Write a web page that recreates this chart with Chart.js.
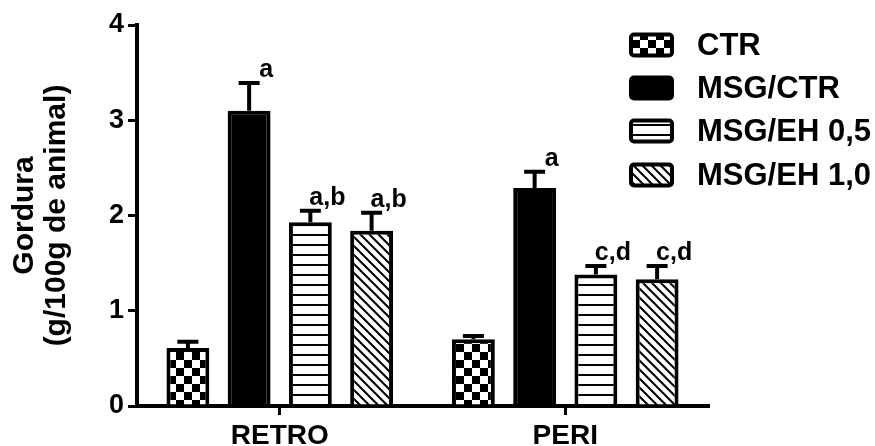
<!DOCTYPE html>
<html>
<head>
<meta charset="utf-8">
<script src="https://cdn.jsdelivr.net/npm/chart.js@4.4.0/dist/chart.umd.min.js"></script>
<style>
  html, body { margin: 0; padding: 0; background: #fff; }
  #wrap { width: 875px; height: 446px; }
</style>
</head>
<body>
<div id="wrap"><canvas id="c" width="875" height="446"></canvas></div>
<script>
// ---- Data ----
const categories = ['RETRO', 'PERI'];
const seriesNames = ['CTR', 'MSG/CTR', 'MSG/EH 0,5', 'MSG/EH 1,0'];
const ctrValues = [0.61, 0.70];
const msgCtrValues = [3.10, 2.29];
const eh05Values = [1.93, 1.38];
const eh10Values = [1.84, 1.33];
const ctrErr = [0.065, 0.035];
const msgCtrErr = [0.29, 0.17];
const eh05Err = [0.12, 0.09];
const eh10Err = [0.19, 0.14];
const ctrMarks = ['', ''];
const msgCtrMarks = ['a', 'a'];
const eh05Marks = ['a,b', 'c,d'];
const eh10Marks = ['a,b', 'c,d'];
const yTicks = [0, 1, 2, 3, 4];
const yTitle = ['Gordura', '(g/100g de animal)'];

// ---- Patterns ----
function makePattern(kind) {
  const c = document.createElement('canvas');
  const g = c.getContext('2d');
  if (kind === 'checker') {
    c.width = 16; c.height = 16;
    g.fillStyle = '#fff'; g.fillRect(0, 0, 16, 16);
    g.fillStyle = '#000'; g.fillRect(0, 0, 8, 8); g.fillRect(8, 8, 8, 8);
  } else if (kind === 'hlines') {
    c.width = 10; c.height = 10;
    g.fillStyle = '#fff'; g.fillRect(0, 0, 10, 10);
    g.fillStyle = '#000'; g.fillRect(0, 4, 10, 2);
  } else if (kind === 'diag') {
    const s = 9;
    c.width = s; c.height = s;
    g.fillStyle = '#fff'; g.fillRect(0, 0, s, s);
    g.strokeStyle = '#000'; g.lineWidth = 2;
    g.beginPath();
    g.moveTo(-1, -1); g.lineTo(s + 1, s + 1);
    g.moveTo(-1, s - 1); g.lineTo(1, s + 1);
    g.moveTo(s - 1, -1); g.lineTo(s + 1, 1);
    g.stroke();
  }
  return document.getElementById('c').getContext('2d').createPattern(c, 'repeat');
}
const fills = [makePattern('checker'), '#000', makePattern('hlines'), makePattern('diag')];
const valueSets = [ctrValues, msgCtrValues, eh05Values, eh10Values];
const errSets = [ctrErr, msgCtrErr, eh05Err, eh10Err];
const markSets = [ctrMarks, msgCtrMarks, eh05Marks, eh10Marks];

const datasets = seriesNames.map((name, i) => ({
  label: name,
  data: valueSets[i],
  backgroundColor: fills[i],
  borderColor: '#000',
  borderWidth: 4,
  borderSkipped: 'bottom',
  barPercentage: 0.70,
  categoryPercentage: 0.858,
  errs: errSets[i],
  marks: markSets[i]
}));

const FONT = "'Liberation Sans', Arial, sans-serif";

const errorBarPlugin = {
  id: 'errorBars',
  afterDatasetsDraw(chart) {
    const ctx = chart.ctx;
    const y = chart.scales.y;
    ctx.save();
    chart.data.datasets.forEach((ds, di) => {
      const meta = chart.getDatasetMeta(di);
      meta.data.forEach((bar, i) => {
        const top = y.getPixelForValue(ds.data[i] + ds.errs[i]);
        ctx.strokeStyle = '#000';
        ctx.lineWidth = 4;
        ctx.lineCap = 'butt';
        ctx.beginPath();
        ctx.moveTo(bar.x, bar.y);
        ctx.lineTo(bar.x, top);
        ctx.moveTo(bar.x - 10.5, top);
        ctx.lineTo(bar.x + 10.5, top);
        ctx.stroke();
        const m = ds.marks[i];
        if (m) {
          ctx.fillStyle = '#000';
          ctx.font = 'bold 25px ' + FONT;
          ctx.textAlign = 'center';
          ctx.textBaseline = 'alphabetic';
          ctx.fillText(m, bar.x + 17, top - 6);
        }
      });
    });
    ctx.restore();
  }
};

const legendPlugin = {
  id: 'customLegend',
  afterDraw(chart) {
    const ctx = chart.ctx;
    ctx.save();
    const rows = [45, 88, 131, 175];
    chart.data.datasets.forEach((ds, i) => {
      const cy = rows[i];
      const x = 631, w = 41, h = 21;
      ctx.beginPath();
      if (ctx.roundRect) ctx.roundRect(x, cy - h / 2, w, h, 3); else ctx.rect(x, cy - h / 2, w, h);
      ctx.fillStyle = ds.backgroundColor;
      ctx.fill();
      ctx.lineWidth = 4;
      ctx.strokeStyle = '#000';
      ctx.stroke();
      ctx.fillStyle = '#000';
      ctx.font = 'bold 31px ' + FONT;
      ctx.textAlign = 'left';
      ctx.textBaseline = 'middle';
      ctx.fillText(ds.label, 697, cy + 1);
    });
    ctx.restore();
  }
};

new Chart(document.getElementById('c'), {
  type: 'bar',
  data: { labels: categories, datasets },
  options: {
    responsive: false,
    animation: false,
    devicePixelRatio: 1,
    layout: { padding: { top: 25, right: 167, left: 0, bottom: 0 } },
    plugins: { legend: { display: false }, tooltip: { enabled: false } },
    scales: {
      x: {
        grid: { display: true, drawOnChartArea: false, offset: false, tickLength: 9, lineWidth: 3, color: '#000' },
        border: { display: true, width: 4, color: '#000' },
        ticks: { color: '#000', font: { family: FONT, size: 28, weight: 'bold' }, padding: 4 },
        afterFit(s) { s.height = 40; }
      },
      y: {
        min: 0, max: 4,
        afterBuildTicks(s) { s.ticks = yTicks.map(v => ({ value: v })); },
        grid: { display: true, drawOnChartArea: false, tickLength: 9, lineWidth: 3, color: '#000' },
        border: { display: true, width: 4, color: '#000' },
        ticks: { color: '#000', font: { family: FONT, size: 27, weight: 'bold' }, padding: 4 },
        title: {
          display: true, text: yTitle, color: '#000',
          font: { family: FONT, size: 30, weight: 'bold', lineHeight: 1.07 },
          padding: { top: 9, bottom: 0 }
        },
        afterFit(s) { s.width = 137; }
      }
    }
  },
  plugins: [errorBarPlugin, legendPlugin]
});
</script>
</body>
</html>
